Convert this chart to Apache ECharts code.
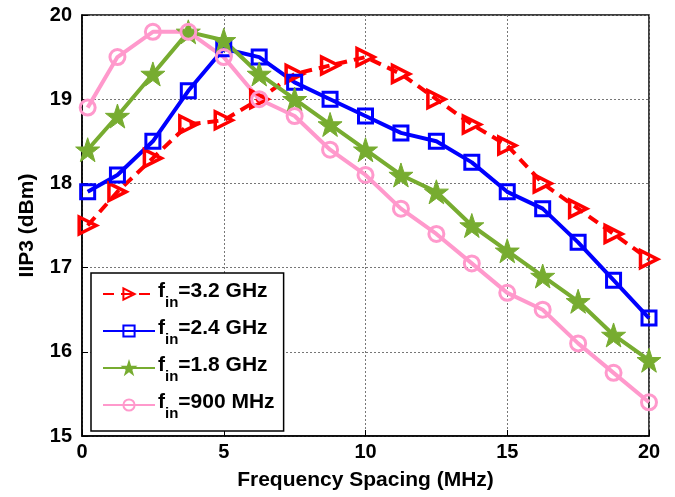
<!DOCTYPE html>
<html><head><meta charset="utf-8">
<script src="https://cdn.jsdelivr.net/npm/echarts@6/dist/echarts.min.js"></script>
<style>html,body{margin:0;padding:0;background:#fff}#c{width:675px;height:497px}</style>
</head><body><div id="c"></div>
<script>
const spacing = [0.2, 1.25, 2.5, 3.75, 5, 6.25, 7.5, 8.75, 10, 11.25, 12.5, 13.75, 15, 16.25, 17.5, 18.75, 20];
const fin32 = [17.5, 17.9, 18.3, 18.7, 18.75, 19.0, 19.3, 19.4, 19.5, 19.3, 19.0, 18.7, 18.45, 18.0, 17.7, 17.4, 17.1];
const fin24 = [17.9, 18.1, 18.5, 19.1, 19.6, 19.5, 19.2, 19.0, 18.8, 18.6, 18.5, 18.25, 17.9, 17.7, 17.3, 16.85, 16.4];
const fin18 = [18.4, 18.8, 19.3, 19.8, 19.7, 19.3, 19.0, 18.7, 18.4, 18.1, 17.9, 17.5, 17.2, 16.9, 16.6, 16.2, 15.9];
const fin900 = [18.9, 19.5, 19.8, 19.8, 19.5, 19.0, 18.8, 18.4, 18.1, 17.7, 17.4, 17.05, 16.7, 16.5, 16.1, 15.75, 15.4];
const seriesNames = ['3.2 GHz', '2.4 GHz', '1.8 GHz', '900 MHz'];
const xTicks = [0, 5, 10, 15, 20];
const yTicks = [15, 16, 17, 18, 19, 20];

const FONT = '"Liberation Sans", Arial, sans-serif';
const pair = arr => spacing.map((x, i) => [x, arr[i]]);

const chart = echarts.init(document.getElementById('c'), null, {renderer: 'canvas'});
const mk = (name, data, color, symbol, size, opts) => Object.assign({
  name, type: 'line', data: pair(data),
  symbol, symbolSize: size,
  lineStyle: {color, width: 4},
  itemStyle: {color: 'rgba(0,0,0,0)', borderColor: color, borderWidth: 3},
  emphasis: {disabled: true},
  animation: false, z: 3
}, opts || {});

const lab = {fontFamily: FONT, fontWeight: 'bold', color: '#000'};

chart.setOption({
  backgroundColor: '#fff',
  animation: false,
  grid: {left: 82, right: 26, top: 15, bottom: 61, show: true, borderColor: '#000', borderWidth: 1.5},
  xAxis: {
    type: 'value', min: 0, max: 20, interval: 5,
    name: 'Frequency Spacing (MHz)', nameLocation: 'middle', nameGap: 34,
    nameTextStyle: Object.assign({fontSize: 21}, lab),
    axisLine: {show: true, lineStyle: {color: '#000', width: 1.5}},
    axisTick: {show: true, inside: true, length: 6, lineStyle: {color: '#000'}},
    axisLabel: Object.assign({fontSize: 20, margin: 6,
      formatter: v => xTicks.includes(v) ? String(v) : ''}, lab),
    splitLine: {show: true, lineStyle: {color: '#777', type: [2, 2], width: 1}}
  },
  yAxis: {
    type: 'value', min: 15, max: 20, interval: 1,
    name: 'IIP3 (dBm)', nameLocation: 'middle', nameGap: 44, nameRotate: 90,
    nameTextStyle: Object.assign({fontSize: 21}, lab),
    axisLine: {show: true, lineStyle: {color: '#000', width: 1.5}},
    axisTick: {show: true, inside: true, length: 6, lineStyle: {color: '#000'}},
    axisLabel: Object.assign({fontSize: 20, margin: 10,
      formatter: v => yTicks.includes(v) ? String(v) : ''}, lab),
    splitLine: {show: true, lineStyle: {color: '#777', type: [2, 2], width: 1}}
  },
  legend: {
    orient: 'vertical', left: 91, top: 273,
    backgroundColor: '#fff', borderColor: '#000', borderWidth: 1.5,
    padding: [5, 9, 10, 11], itemGap: 5, itemWidth: 52, itemHeight: 14,
    data: seriesNames,
    formatter: n => '{f|f}{s|in}{t|=' + n + '}',
    textStyle: Object.assign({fontSize: 21, padding: [0, 0, 0, -2],
      rich: {
        f: Object.assign({fontSize: 21, lineHeight: 32, verticalAlign: 'top', padding: [3, 0, 0, 0]}, lab),
        s: Object.assign({fontSize: 15, lineHeight: 32, verticalAlign: 'bottom', padding: [0, 0, 0, 0]}, lab),
        t: Object.assign({fontSize: 21, lineHeight: 32, verticalAlign: 'top', padding: [3, 0, 0, 0]}, lab)
      }}, lab)
  },
  series: [
    mk(seriesNames[0], fin32, '#ff0000', 'triangle', 17, {
      symbolRotate: -90,
      lineStyle: {color: '#ff0000', width: 4, type: [11, 7]},
      itemStyle: {color: 'rgba(0,0,0,0)', borderColor: '#ff0000', borderWidth: 3.5}
    }),
    mk(seriesNames[1], fin24, '#0000ff', 'rect', 14),
    mk(seriesNames[2], fin18, '#77ac30', 'path://M50,0 L61.8,35.1 L98.1,35.1 L68.8,56.8 L79.4,90.5 L50,70 L20.6,90.5 L31.2,56.8 L1.9,35.1 L38.2,35.1 Z', 24, {
      itemStyle: {color: '#77ac30', borderColor: '#77ac30', borderWidth: 1}
    }),
    mk(seriesNames[3], fin900, '#ff99cc', 'circle', 15)
  ]
});
</script>
</body></html>
